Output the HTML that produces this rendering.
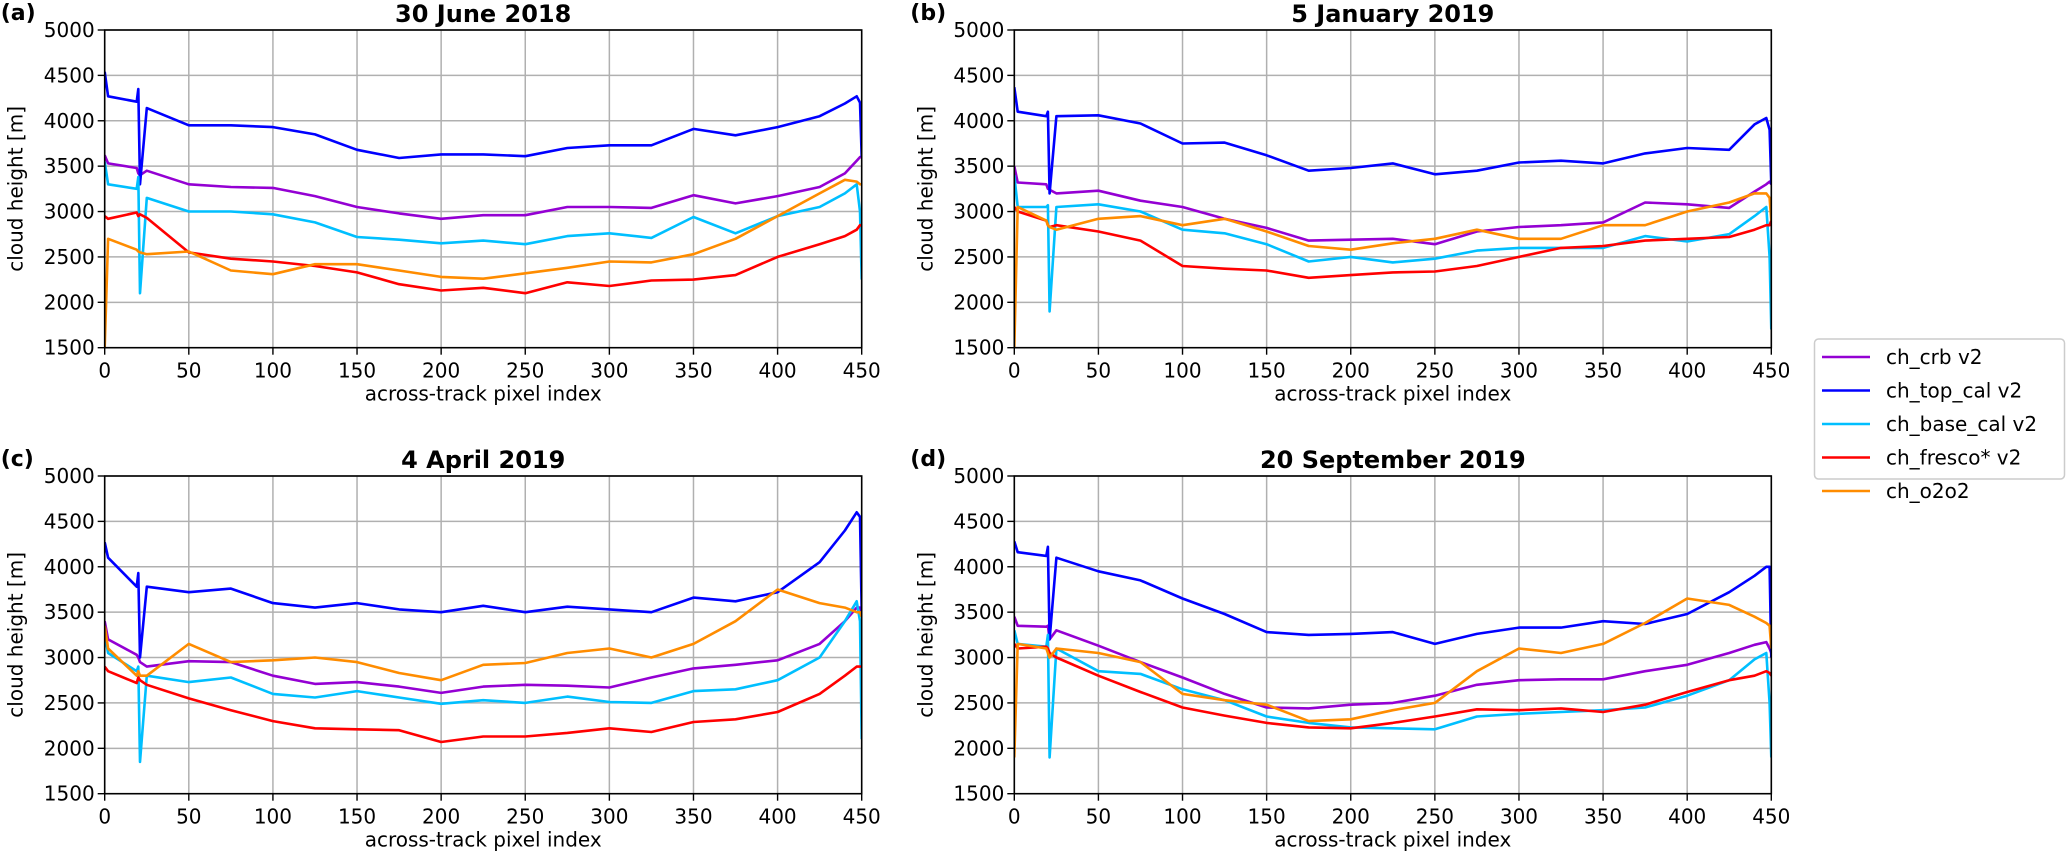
<!DOCTYPE html>
<html><head><meta charset="utf-8"><style>
html,body{margin:0;padding:0;background:#fff;}
svg{display:block;font-family:"DejaVu Sans","Liberation Sans",sans-serif;}
</style></head>
<body>
<svg id="fig" width="2067" height="856" viewBox="0 0 2067 856" xmlns="http://www.w3.org/2000/svg"></svg>
<script>
// shared x positions (across-track pixel index)
const xs = [0,2,19,20,21,25,50,75,100,125,150,175,200,225,250,275,300,325,350,375,400,425,440,447,449,450];
const xTicks = [0,50,100,150,200,250,300,350,400,450];
const yTicks = [1500,2000,2500,3000,3500,4000,4500,5000];
const seriesNames = ["ch_crb v2","ch_top_cal v2","ch_base_cal v2","ch_fresco* v2","ch_o2o2"];
const seriesColors = ["#9400d3","#0000ff","#00bfff","#ff0000","#ff8c00"];
const panelTitles = ["30 June 2018","5 January 2019","4 April 2019","20 September 2019"];
const panelLetters = ["(a)","(b)","(c)","(d)"];

// Panel (a)
const aCrb   = [3620,3530,3480,3420,3400,3450,3300,3270,3260,3170,3050,2980,2920,2960,2960,3050,3050,3040,3180,3090,3170,3270,3420,3560,3600,3600];
const aTop   = [4540,4270,4210,4350,3300,4140,3950,3950,3930,3850,3680,3590,3630,3630,3610,3700,3730,3730,3910,3840,3930,4050,4190,4270,4200,3600];
const aBase  = [3550,3300,3250,3380,2100,3150,3000,3000,2970,2880,2720,2690,2650,2680,2640,2730,2760,2710,2940,2760,2950,3050,3200,3300,3000,2250];
const aFres  = [2950,2920,2990,2950,2970,2930,2550,2480,2450,2400,2330,2200,2130,2160,2100,2220,2180,2240,2250,2300,2500,2640,2730,2800,2850,2850];
const aO2    = [1500,2700,2580,2560,2550,2530,2560,2350,2310,2420,2420,2350,2280,2260,2320,2380,2450,2440,2530,2700,2950,3200,3350,3330,3300,3300];
// Panel (b)
const bCrb   = [3500,3320,3300,3250,3240,3200,3230,3120,3050,2920,2820,2680,2690,2700,2640,2780,2830,2850,2880,3100,3080,3040,3220,3300,3330,3300];
const bTop   = [4370,4100,4050,4100,3200,4050,4060,3970,3750,3760,3620,3450,3480,3530,3410,3450,3540,3560,3530,3640,3700,3680,3960,4030,3900,3300];
const bBase  = [3400,3050,3050,3070,1900,3050,3080,3000,2800,2760,2640,2450,2500,2440,2480,2570,2600,2600,2600,2730,2670,2750,2950,3050,2500,1700];
const bFres  = [3050,3000,2900,2850,2830,2850,2780,2680,2400,2370,2350,2270,2300,2330,2340,2400,2500,2600,2620,2680,2700,2720,2800,2850,2850,2900];
const bO2    = [1500,3050,2900,2850,2830,2800,2920,2950,2850,2920,2780,2620,2580,2650,2700,2800,2700,2700,2850,2850,3000,3100,3200,3200,3150,2900];
// Panel (c)
const cCrb   = [3400,3200,3030,3000,2950,2900,2960,2950,2800,2710,2730,2680,2610,2680,2700,2690,2670,2780,2880,2920,2970,3150,3400,3550,3550,3500];
const cTop   = [4270,4100,3780,3930,3000,3780,3720,3760,3600,3550,3600,3530,3500,3570,3500,3560,3530,3500,3660,3620,3720,4050,4400,4600,4550,3500];
const cBase  = [3250,3050,2850,2900,1850,2800,2730,2780,2600,2560,2630,2560,2490,2530,2500,2570,2510,2500,2630,2650,2750,3000,3400,3620,3400,2100];
const cFres  = [2900,2850,2720,2780,2750,2700,2550,2420,2300,2220,2210,2200,2070,2130,2130,2170,2220,2180,2290,2320,2400,2600,2800,2900,2900,2900];
const cO2    = [3350,3100,2800,2850,2800,2800,3150,2950,2970,3000,2950,2830,2750,2920,2940,3050,3100,3000,3150,3400,3750,3600,3550,3500,3500,3450];
// Panel (d)
const dCrb   = [3450,3350,3340,3350,3200,3300,3130,2950,2780,2600,2450,2440,2480,2500,2580,2700,2750,2760,2760,2850,2920,3050,3140,3170,3100,3050];
const dTop   = [4280,4160,4120,4220,3200,4100,3950,3850,3650,3480,3280,3250,3260,3280,3150,3260,3330,3330,3400,3370,3480,3720,3900,4000,4000,3000];
const dBase  = [3300,3150,3120,3250,1900,3100,2850,2820,2650,2530,2350,2280,2230,2220,2210,2350,2380,2400,2420,2450,2580,2750,2980,3050,2500,1900];
const dFres  = [3150,3100,3120,3100,3050,3000,2800,2620,2450,2360,2280,2230,2220,2280,2350,2430,2420,2440,2400,2480,2620,2750,2800,2850,2830,2800];
const dO2    = [1900,3150,3100,3050,3000,3100,3050,2950,2600,2530,2480,2300,2320,2420,2500,2850,3100,3050,3150,3380,3650,3580,3450,3380,3350,3100];

const panelData = [[aCrb,aTop,aBase,aFres,aO2],[bCrb,bTop,bBase,bFres,bO2],[cCrb,cTop,cBase,cFres,cO2],[dCrb,dTop,dBase,dFres,dO2]];

const NS = "http://www.w3.org/2000/svg";
const svg = document.getElementById("fig");
function mk(tag, attrs, parent, text){
  const e = document.createElementNS(NS, tag);
  for (const k in attrs) e.setAttribute(k, attrs[k]);
  if (text !== undefined) e.textContent = text;
  (parent||svg).appendChild(e);
  return e;
}
const W = 757, H = 317.7;
const lefts = [104.7, 1014.3, 104.7, 1014.3];
const tops = [30, 30, 476, 476];
const xMin = 0, xMax = 450, yMin = 1500, yMax = 5000;

for (let p = 0; p < 4; p++){
  const L = lefts[p], T = tops[p];
  const sx = v => L + (v - xMin) / (xMax - xMin) * W;
  const sy = v => T + H - (v - yMin) / (yMax - yMin) * H;
  const g = mk("g", {});
  
  
  // grid
  xTicks.forEach(t => { const l = mk("line", {x1:sx(t),x2:sx(t),y1:T,y2:T+H,stroke:"#b0b0b0","stroke-width":1.5}, g);
      });
  yTicks.forEach(t => { const l = mk("line", {x1:L,x2:L+W,y1:sy(t),y2:sy(t),stroke:"#b0b0b0","stroke-width":1.5}, g);
      });
  // series
  const clipId = "clip" + p;
  const cp = mk("clipPath", {id: clipId}, g);
  mk("rect", {x:L, y:T-2, width:W, height:H+2}, cp);
  panelData[p].forEach((arr, si) => {
    const d = arr.map((v, i) => (i ? "L" : "M") + sx(xs[i]).toFixed(1) + "," + sy(v).toFixed(1)).join(" ");
    const path = mk("path", {d: d, fill:"none", stroke: seriesColors[si], "stroke-width": 2.6, "stroke-linejoin":"round", "clip-path":"url(#" + clipId + ")"}, g);
    
    
  });
  // frame
  const fr = mk("rect", {x:L, y:T, width:W, height:H, fill:"none", stroke:"#000", "stroke-width":1.6}, g);
   
  // ticks
  xTicks.forEach(t => {
    mk("line", {x1:sx(t),x2:sx(t),y1:T+H,y2:T+H+7,stroke:"#000","stroke-width":1.4}, g);
    const tx = mk("text", {x:sx(t), y:T+H+30, "font-size":20, "text-anchor":"middle"}, g, String(t));
     
  });
  yTicks.forEach(t => {
    mk("line", {x1:L-7,x2:L,y1:sy(t),y2:sy(t),stroke:"#000","stroke-width":1.4}, g);
    const tx = mk("text", {x:L-10, y:sy(t)+7, "font-size":20, "text-anchor":"end"}, g, String(t));
     
  });
  const xl = mk("text", {x:L+W/2, y:T+H+53, "font-size":20, "text-anchor":"middle"}, g, "across-track pixel index");
   
  const yx = L - 82, yy = T + H/2;
  const yl = mk("text", {x:yx, y:yy, "font-size":20, "text-anchor":"middle", transform:"rotate(-90 " + yx + " " + yy + ")"}, g, "cloud height [m]");
   
  const ti = mk("text", {x:L+W/2, y:T-8, "font-size":24, "font-weight":"bold", "text-anchor":"middle"}, g, panelTitles[p]);
   
  const le = mk("text", {x:L-104, y:T-10, "font-size":22, "font-weight":"bold"}, g, panelLetters[p]);
   
}

// legend
const lg = mk("g", {});


const lb = mk("rect", {x:1814.5, y:339, width:250, height:140, rx:4, fill:"#fff", stroke:"#cccccc", "stroke-width":1.5}, lg);
 
seriesNames.forEach((n, i) => {
  const cy = 357 + i * 33.5;
  const ln = mk("line", {x1:1822, x2:1870, y1:cy, y2:cy, stroke:seriesColors[i], "stroke-width":2.6}, lg);
   
  const t = mk("text", {x:1886, y:cy+7, "font-size":20}, lg, n);
   
});
</script>
</body></html>
